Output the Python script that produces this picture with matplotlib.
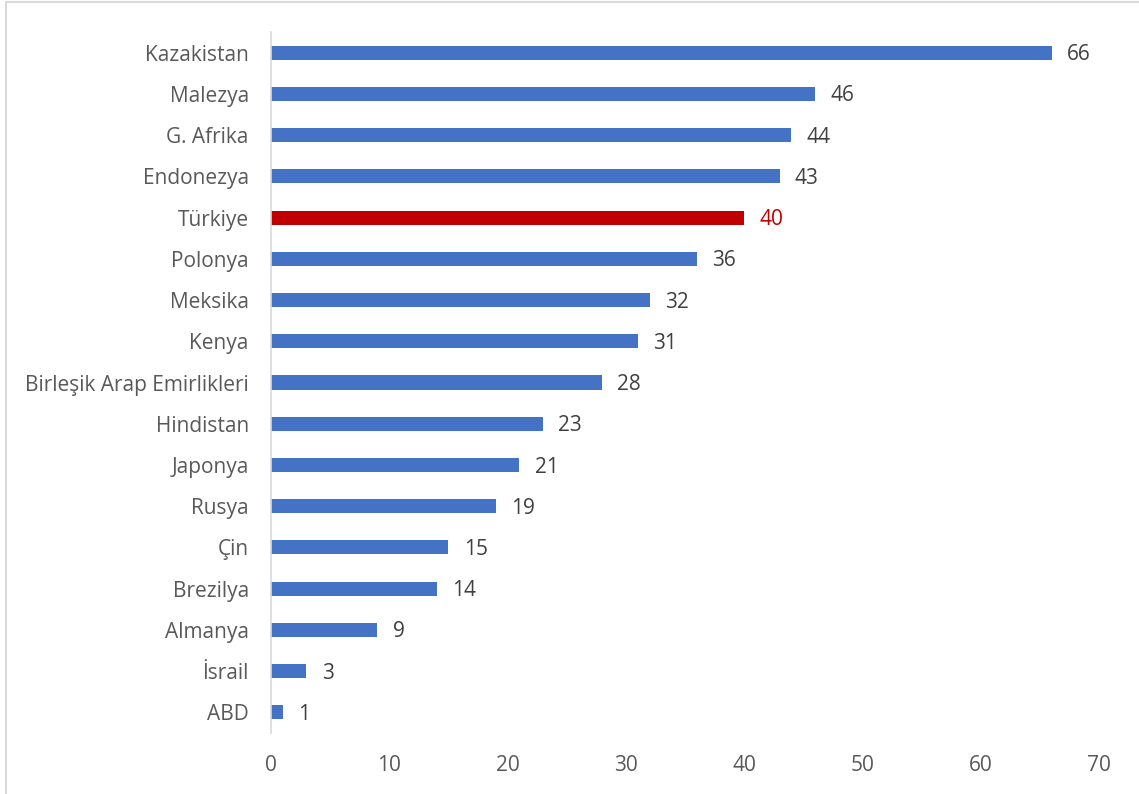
import matplotlib.pyplot as plt
from matplotlib.patches import Rectangle

countries = ["Kazakistan", "Malezya", "G. Afrika", "Endonezya", "Türkiye", "Polonya",
             "Meksika", "Kenya", "Birleşik Arap Emirlikleri", "Hindistan", "Japonya",
             "Rusya", "Çin", "Brezilya", "Almanya", "İsrail", "ABD"]
values = [66, 46, 44, 43, 40, 36, 32, 31, 28, 23, 21, 19, 15, 14, 9, 3, 1]
highlight = "Türkiye"

BLUE = "#4472C4"
RED = "#C00000"
GREY_TEXT = "#595959"

plt.rcParams['font.family'] = ['Open Sans', 'DejaVu Sans']

fig = plt.figure(figsize=(11.39, 7.94), dpi=100)
W, H = 1139, 794
ax = fig.add_axes([271 / W, 1 - 733 / H, (1099 - 271) / W, (733 - 32) / H])

# light frame around the chart area
fig.patches.append(Rectangle((6 / W, -0.1), 1.2, 1 - 2 / H + 0.1, transform=fig.transFigure,
                             fill=False, edgecolor="#d9d9d9", linewidth=1.5))

ypos = list(range(len(countries)))[::-1]
colors = [RED if c == highlight else BLUE for c in countries]
ax.barh(ypos, values, height=0.34, color=colors)

for y, v, c in zip(ypos, values, colors):
    ax.annotate(str(v), (v, y), xytext=(11, -1.5), textcoords="offset points",
                ha="left", va="center", fontsize=15,
                color=RED if c == RED else "#404040")

ax.set_xlim(0, 70)
ax.set_ylim(-0.5, len(countries) - 0.5)
ax.set_xticks(range(0, 71, 10))
ax.set_yticks(ypos)
ax.set_yticklabels(countries)
ax.tick_params(axis="both", length=0, labelsize=15, labelcolor=GREY_TEXT)
ax.tick_params(axis="y", pad=16)
ax.tick_params(axis="x", pad=16)

for side in ["top", "right", "bottom"]:
    ax.spines[side].set_visible(False)
ax.spines["left"].set_color("#d9d9d9")
ax.spines["left"].set_linewidth(1.2)

plt.savefig("out.png", dpi=100)
